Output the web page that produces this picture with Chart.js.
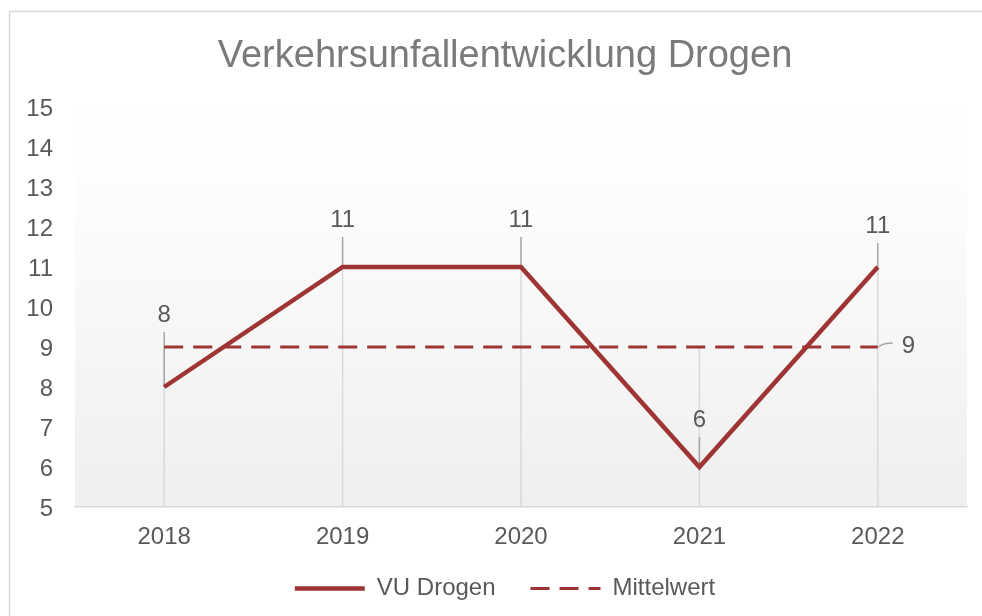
<!DOCTYPE html>
<html>
<head>
<meta charset="utf-8">
<script src="https://cdn.jsdelivr.net/npm/chart.js@4.4.0/dist/chart.umd.min.js"></script>
<style>
  html, body { margin: 0; padding: 0; background: #fff; }
  #chart { display: block; }
</style>
</head>
<body>
<canvas id="chart" width="982" height="616"></canvas>
<script>
// data
const years = ['2018', '2019', '2020', '2021', '2022'];
const vuDrogen = [8, 11, 11, 6, 11];
const mittelwert = [9, 9, 9, 9, 9];
const yMin = 5;
const yMax = 15;

const RED = '#9e3434';
const TEXT = '#595959';
Chart.defaults.font.family = '"Liberation Sans", Arial, sans-serif';

// frame + plot background
const framePlugin = {
  id: 'frame',
  beforeDraw(chart) {
    const { ctx, chartArea: a } = chart;
    ctx.save();
    ctx.fillStyle = '#fff';
    ctx.fillRect(0, 0, chart.width, chart.height);
    ctx.strokeStyle = '#d9d9d9';
    ctx.lineWidth = 1.5;
    ctx.strokeRect(9.5, 11.5, 1100, 700);
    const g = ctx.createLinearGradient(0, a.top, 0, a.bottom);
    g.addColorStop(0, '#ffffff');
    g.addColorStop(0.2, '#fdfdfd');
    g.addColorStop(1, '#efefef');
    ctx.fillStyle = g;
    ctx.fillRect(a.left, a.top, a.right - a.left, a.bottom - a.top);
    ctx.restore();
  }
};

// drop lines, leader lines, data labels
const linesPlugin = {
  id: 'dropLines',
  beforeDatasetsDraw(chart, args, opts) {
    const { ctx, scales } = chart;
    const main = chart.getDatasetMeta(0).data;
    ctx.save();
    ctx.lineWidth = 1.5;
    ctx.strokeStyle = '#d9d9d9';
    years.forEach((y, i) => {
      const top = Math.max(vuDrogen[i], mittelwert[i]);
      const x = main[i].x;
      ctx.beginPath();
      ctx.moveTo(x, scales.y.getPixelForValue(yMin));
      ctx.lineTo(x, scales.y.getPixelForValue(top));
      ctx.stroke();
    });
    ctx.strokeStyle = '#a6a6a6';
    main.forEach((p, i) => {
      ctx.beginPath();
      ctx.moveTo(p.x, p.y);
      ctx.lineTo(p.x, p.y - opts.lift[i] + 17);
      ctx.stroke();
    });
    const avg = chart.getDatasetMeta(1).data[years.length - 1];
    ctx.beginPath();
    ctx.moveTo(avg.x + 1, avg.y);
    ctx.quadraticCurveTo(avg.x + 5, avg.y - 4, avg.x + 15, avg.y - 4);
    ctx.stroke();
    ctx.restore();
  },
  afterDatasetsDraw(chart, args, opts) {
    const { ctx } = chart;
    ctx.save();
    ctx.font = '24px "Liberation Sans", Arial, sans-serif';
    ctx.fillStyle = TEXT;
    ctx.textBaseline = 'middle';
    ctx.textAlign = 'center';
    chart.getDatasetMeta(0).data.forEach((p, i) => {
      ctx.fillText(String(vuDrogen[i]), p.x, p.y - opts.lift[i]);
    });
    const last = years.length - 1;
    const avg = chart.getDatasetMeta(1).data[last];
    ctx.textAlign = 'left';
    ctx.fillText(String(mittelwert[last]), avg.x + 24, avg.y - 1);
    ctx.restore();
  }
};

new Chart(document.getElementById('chart'), {
  type: 'line',
  data: {
    labels: years,
    datasets: [
      {
        label: 'VU Drogen',
        data: vuDrogen,
        borderColor: RED,
        backgroundColor: RED,
        borderWidth: 4.5,
        pointRadius: 0,
        tension: 0
      },
      {
        label: 'Mittelwert',
        data: mittelwert,
        borderColor: RED,
        backgroundColor: RED,
        borderWidth: 3,
        borderDash: [19, 10],
        pointRadius: 0,
        tension: 0
      }
    ]
  },
  options: {
    responsive: false,
    animation: false,
    layout: { padding: { left: 0, right: -28, top: 0, bottom: 5.5 } },
    plugins: {
      title: {
        display: true,
        text: 'Verkehrsunfallentwicklung Drogen',
        color: '#7a7a7a',
        font: { size: 38, weight: 'normal' },
        padding: { top: 34, bottom: 27.4 }
      },
      legend: {
        position: 'bottom',
        labels: {
          usePointStyle: true,
          pointStyleWidth: 70,
          color: TEXT,
          font: { size: 24 },
          padding: 15,
          // trailing spaces give the wider gap between the two entries
          generateLabels(chart) {
            const sets = chart.data.datasets;
            return sets.map((ds, i) => ({
              text: i < sets.length - 1 ? ds.label + '   ' : ds.label,
              datasetIndex: i,
              pointStyle: 'line',
              strokeStyle: ds.borderColor,
              fillStyle: ds.borderColor,
              lineWidth: ds.borderWidth,
              lineDash: ds.borderDash || [],
              lineCap: 'butt',
              fontColor: TEXT,
              hidden: false
            }));
          }
        }
      },
      tooltip: { enabled: false },
      dropLines: { lift: [72, 47, 47, 47, 41] }
    },
    scales: {
      x: {
        offset: true,
        grid: { display: false, drawTicks: false },
        border: { color: '#d9d9d9', width: 1.5 },
        ticks: { color: TEXT, font: { size: 24 }, padding: 15.6 },
        afterFit(s) { s.height = 54.5; }
      },
      y: {
        min: yMin,
        max: yMax,
        grid: { display: false, drawTicks: false },
        border: { display: false },
        ticks: { stepSize: 1, color: TEXT, font: { size: 24 }, padding: 22, labelOffset: 2 },
        afterFit(s) { s.width = 75; }
      },
      pad: {
        position: 'right',
        display: true,
        grid: { display: false, drawTicks: false },
        border: { display: false },
        ticks: { display: false },
        afterFit(s) { s.width = 43; }
      }
    }
  },
  plugins: [framePlugin, linesPlugin]
});
</script>
</body>
</html>
